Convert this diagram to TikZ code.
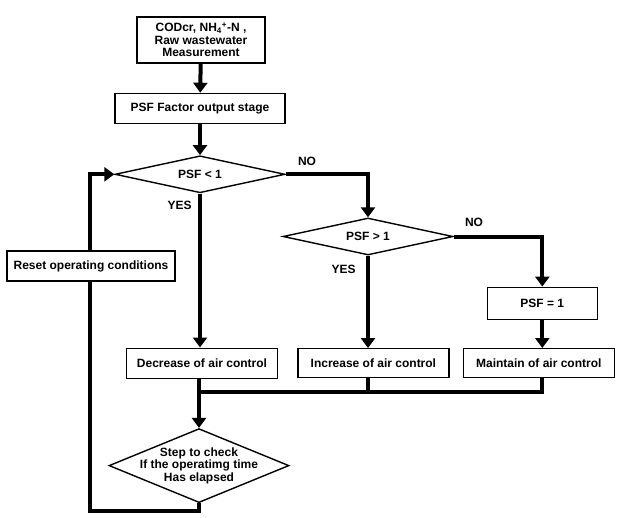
\documentclass[tikz,border=0pt]{standalone}
\usepackage{fontspec}
\setmainfont{Liberation Sans}
\usetikzlibrary{arrows.meta}
\usetikzlibrary{positioning}
\usetikzlibrary{shapes.geometric}

\begin{document}
\begin{tikzpicture}[x=1pt, y=-1pt,
box/.style={rectangle, draw=black, fill=white, line width=1.4pt, inner sep=2pt, align=center, font=\bfseries\fontsize{12}{12.5}\selectfont},
cond/.style={diamond, draw=black, fill=white, line width=1.4pt, inner sep=0pt, align=center, font=\bfseries\fontsize{12}{12.5}\selectfont},
flow/.style={line width=4pt, -{Triangle[width=14pt,length=10pt]}},
link/.style={line width=4pt},
tag/.style={font=\bfseries\fontsize{12}{12.5}\selectfont},
]
\useasboundingbox (0,0) rectangle (617,517);
\node[box, minimum width=128pt, minimum height=46pt](inp) at (201,40){CODcr, NH\textsubscript{4}\textsuperscript{+}-N ,\\Raw wastewater\\Measurement};
\node[box, minimum width=170pt, minimum height=30pt](psf)[below=29pt of inp, xshift=-1pt]{PSF Factor output stage};
\node[cond, minimum width=170pt, minimum height=37pt, aspect=4.6](c1)[below=31pt of psf]{PSF < 1};
\node[cond, minimum width=170pt, minimum height=37pt, aspect=4.6](c2) at (368,236.5){PSF > 1};
\node[box, minimum width=151pt, minimum height=30pt](dec)[below=154pt of c1, xshift=2pt]{Decrease of air control};
\node[box, minimum width=151pt, minimum height=29pt](inc)[right=19pt of dec]{Increase of air control};
\node[box, minimum width=151pt, minimum height=29pt](keep)[right=13pt of inc]{Maintain of air control};
\node[box, minimum width=110pt, minimum height=32pt](eq)[above=28pt of keep, xshift=3.5pt]{PSF = 1};
\node[box, minimum width=168pt, minimum height=30pt](reset) at (91,266){Reset operating conditions};
\node[cond, minimum width=180pt, minimum height=74pt, aspect=2.43, inner sep=-6pt](chk)[below=49pt of dec, xshift=-3pt]{Step to check\\If the operatimg time\\Has elapsed};
\coordinate (m) at (199,392);
\coordinate (lp) at (90,511);
\draw[flow] (inp) -- (psf);
\draw[flow] (psf) -- (c1);
\draw[flow] (c1.south) -- node[tag, pos=0, below left, xshift=-3pt, yshift=-2pt]{YES} (c1.south |- dec.north);
\draw[flow] (c1.east) -| node[tag, pos=0, above right, xshift=7pt, yshift=3pt]{NO} (c2.north);
\draw[flow] (c2.south) -- node[tag, pos=0, below left, xshift=-7pt, yshift=-4pt]{YES} (c2.south |- inc.north);
\draw[flow] (c2.east) -| node[tag, pos=0, above right, xshift=6pt, yshift=5pt]{NO} (eq.north);
\draw[flow] (eq.south) -- (eq.south |- keep.north);
\draw[link] (c2.south |- inc.south) |- (m);
\draw[link] (eq.south |- keep.south) |- (m);
\draw[flow] (chk.north |- dec.south) -- (chk.north);
\draw[link] (chk.south) |- (lp) -- (lp |- reset.south);
\draw[flow] (lp |- reset.north) |- (c1.west);
\end{tikzpicture}
\end{document}
